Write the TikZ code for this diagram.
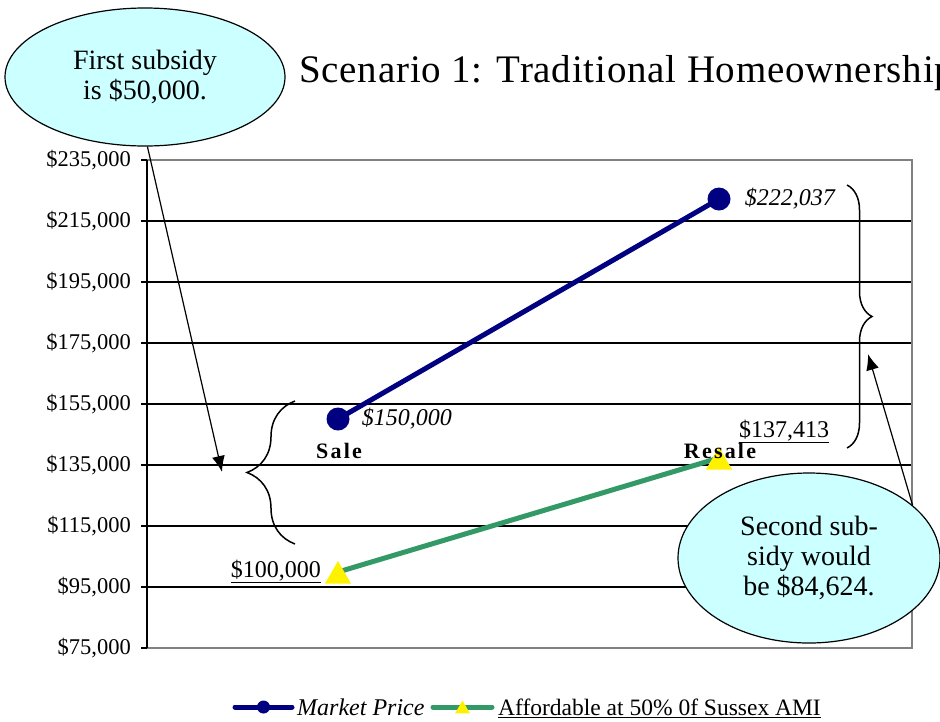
\documentclass[tikz,border=0pt]{standalone}
\usepackage{fontspec}
\setmainfont{Liberation Serif}
\newfontfamily\spacedfont[LetterSpace=10]{Liberation Serif}
\newfontfamily\titlefont[LetterSpace=2]{Liberation Serif}
\usepackage{tikz}
\usetikzlibrary{shapes.geometric, positioning, arrows.meta, decorations.pathreplacing, calc}

\definecolor{navy}{HTML}{000080}
\definecolor{seagreen}{HTML}{339966}
\definecolor{paleblue}{HTML}{CCFFFF}
\definecolor{framegray}{HTML}{808080}

\begin{document}
\begin{tikzpicture}[x=1pt, y=-1pt, node distance=12pt,
		grid/.style={line width=1.5pt, black},
		market/.style={line width=5pt, navy},
		afford/.style={line width=5pt, seagreen},
		dot/.style={circle, fill=navy, minimum size=23pt, inner sep=0pt},
		tri/.style={regular polygon, regular polygon sides=3, fill=yellow, minimum size=30pt, inner sep=0pt},
		bubble/.style={ellipse, draw, line width=1.2pt, fill=paleblue, align=center, inner sep=0pt, font=\fontsize{28}{30}\selectfont},
		callout/.style={line width=1.2pt, -{Latex[length=16pt,width=13pt]}},
		bracket/.style={line width=1.5pt, decorate, decoration={brace, amplitude=#1}},
		ticklabel/.style={anchor=east, inner sep=0pt, font=\fontsize{22.5}{22.5}\selectfont},
		pricelabel/.style={inner sep=0pt, font=\fontsize{24}{24}\selectfont\itshape},
		pointlabel/.style={anchor=base, inner sep=0pt, font=\fontsize{22}{22}\spacedfont\bfseries},
		underlabel/.style={inner sep=0pt, font=\fontsize{24}{24}\selectfont},
		legendlabel/.style={anchor=base west, inner sep=0pt, font=\fontsize{23.5}{23.5}\selectfont}
	]
		\useasboundingbox (0,0) rectangle (940,721);
		\clip (0,0) rectangle (940,721);
		
		% Frame, grid and value axis
		\foreach \yy in {221,282,343,404,465,526,587}
			\draw[grid] (147,\yy) -- (912,\yy);
		\draw[framegray, line width=2pt] (147,160) -- (912,160) -- (912,648) -- (147,648);
		\draw[black, line width=2pt] (147,160) -- (147,648);
		\foreach \yy/\val in {160/235,221/215,282/195,343/175,404/155,465/135,526/115,587/95,648/75}{
			\draw[line width=1.5pt] (141,\yy) -- (147,\yy);
			\node (tick\val) [ticklabel] at (131,\yy) {\$\val,000};
		}
		
		% Title
		\node (title) [anchor=base west, inner sep=0pt, font=\fontsize{39}{39}\titlefont] at (299,82) {Scenario 1: Traditional Homeownership};
		
		% Define the data points
		\coordinate (sale-mp) at (338,419);
		\coordinate (resale-mp) at (719,199);
		\coordinate (sale-aff) at (338,572);
		\coordinate (resale-aff) at (719,458);
		
		% Connect the data points
		\draw[market] (sale-mp) -- (resale-mp);
		\draw[afford] (sale-aff) -- (resale-aff);
		
		% Markers
		\node (dot-sale) [dot] at (sale-mp) {};
		\node (dot-resale) [dot] at (resale-mp) {};
		\node (tri-sale) [tri, yshift=-4pt] at (sale-aff) {};
		\node (tri-resale) [tri, yshift=-4pt] at (resale-aff) {};
		
		% Labels
		\node (lab-sale-mp) [pricelabel, right=12pt of dot-sale] {\$150,000};
		\node (lab-resale-mp) [pricelabel, right=14pt of dot-resale] {\$222,037};
		\node (lab-sale) [pointlabel] at (339,458) {Sale};
		\node (lab-resale) [pointlabel] at (720,458) {Resale};
		\node (lab-sale-aff) [underlabel, anchor=base east] at (321,577) {\underline{\$100,000}};
		\node (lab-resale-aff) [underlabel, anchor=base west] at (739,437) {\underline{\$137,413}};
		
		% Braces
		\draw[bracket=48pt] (295,544) -- (295,401);
		\draw[bracket=25pt] (847,185) -- (847,448);
		
		% Callouts
		\node (first) [bubble, minimum width=280pt, minimum height=138pt] at (145,77) {First subsidy\\is \$50,000.};
		\node (second) [bubble, minimum width=262pt, minimum height=170pt] at (809,558) {Second sub-\\sidy would\\be \$84,624.};
		\coordinate (gap1) at (222,472);
		\coordinate (gap2) at (868,354);
		\draw[callout] (first.-88) -- (gap1);
		\draw[callout] (second.27) -- (gap2);
		
		% Legend
		\coordinate (leg-mp-a) at (235,707);
		\coordinate (leg-mp-b) at (292,707);
		\coordinate (leg-aff-a) at (433,707);
		\coordinate (leg-aff-b) at (492,707);
		\draw[market, line cap=round] (leg-mp-a) -- (leg-mp-b);
		\node (leg-dot) [dot, minimum size=13pt] at ($(leg-mp-a)!0.5!(leg-mp-b)$) {};
		\node (leg-mp) [legendlabel, font=\fontsize{24}{24}\selectfont\itshape] at (297,715) {Market Price};
		\draw[afford, line cap=round] (leg-aff-a) -- (leg-aff-b);
		\node (leg-tri) [tri, minimum size=17pt, yshift=-2pt] at ($(leg-aff-a)!0.5!(leg-aff-b)$) {};
		\node (leg-aff) [legendlabel] at (498,715) {\underline{Affordable at 50\% 0f Sussex AMI}};
	\end{tikzpicture}
\end{document}
